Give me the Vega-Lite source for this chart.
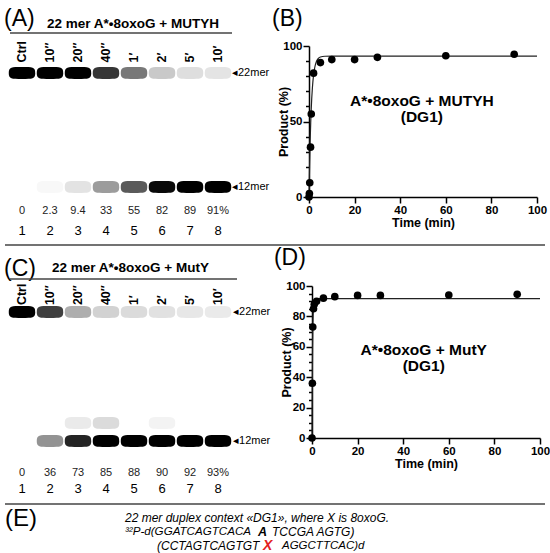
{
  "$schema": "https://vega.github.io/schema/vega-lite/v6.json",
  "background": "#ffffff",
  "padding": {"left": 0, "top": 7, "right": 0, "bottom": 0},
  "config": {
    "font": "Liberation Sans",
    "view": {"stroke": null},
    "axis": {
      "grid": false,
      "domainColor": "#000000",
      "domainWidth": 1.5,
      "tickColor": "#000000",
      "tickWidth": 1.5,
      "labelColor": "#000000",
      "labelFont": "Liberation Sans",
      "labelFontWeight": "bold",
      "labelFontSize": 11.5,
      "labelPadding": 1,
      "labelFlush": false,
      "labelOverlap": false,
      "titleColor": "#000000",
      "titleFont": "Liberation Sans",
      "titleFontWeight": "bold",
      "titleFontSize": 12.5
    }
  },
  "datasets": {
    "lanesA": [
      {"lane": 1, "label": "Ctrl", "pct": "0"},
      {"lane": 2, "label": "10″", "pct": "2.3"},
      {"lane": 3, "label": "20″", "pct": "9.4"},
      {"lane": 4, "label": "40″", "pct": "33"},
      {"lane": 5, "label": "1′", "pct": "55"},
      {"lane": 6, "label": "2′", "pct": "82"},
      {"lane": 7, "label": "5′", "pct": "89"},
      {"lane": 8, "label": "10′", "pct": "91%"}
    ],
    "lanesC": [
      {"lane": 1, "label": "Ctrl", "pct": "0"},
      {"lane": 2, "label": "10″", "pct": "36"},
      {"lane": 3, "label": "20″", "pct": "73"},
      {"lane": 4, "label": "40″", "pct": "85"},
      {"lane": 5, "label": "1′", "pct": "88"},
      {"lane": 6, "label": "2′", "pct": "90"},
      {"lane": 7, "label": "5′", "pct": "92"},
      {"lane": 8, "label": "10′", "pct": "93%"}
    ],
    "bandsA": [
      {"lane": 1, "size": 22, "intensity": 100}, {"lane": 1, "size": 12, "intensity": 0},
      {"lane": 2, "size": 22, "intensity": 97.7}, {"lane": 2, "size": 12, "intensity": 2.3},
      {"lane": 3, "size": 22, "intensity": 90.6}, {"lane": 3, "size": 12, "intensity": 9.4},
      {"lane": 4, "size": 22, "intensity": 67}, {"lane": 4, "size": 12, "intensity": 33},
      {"lane": 5, "size": 22, "intensity": 45}, {"lane": 5, "size": 12, "intensity": 55},
      {"lane": 6, "size": 22, "intensity": 18}, {"lane": 6, "size": 12, "intensity": 82},
      {"lane": 7, "size": 22, "intensity": 11}, {"lane": 7, "size": 12, "intensity": 89},
      {"lane": 8, "size": 22, "intensity": 9}, {"lane": 8, "size": 12, "intensity": 91}
    ],
    "bandsC": [
      {"lane": 1, "size": 22, "intensity": 100}, {"lane": 1, "size": 12, "intensity": 0},
      {"lane": 2, "size": 22, "intensity": 64}, {"lane": 2, "size": 12, "intensity": 36},
      {"lane": 3, "size": 22, "intensity": 27}, {"lane": 3, "size": 13.4, "intensity": 7}, {"lane": 3, "size": 12, "intensity": 73},
      {"lane": 4, "size": 22, "intensity": 15}, {"lane": 4, "size": 13.4, "intensity": 12}, {"lane": 4, "size": 12, "intensity": 85},
      {"lane": 5, "size": 22, "intensity": 12}, {"lane": 5, "size": 12, "intensity": 88},
      {"lane": 6, "size": 22, "intensity": 10}, {"lane": 6, "size": 13.4, "intensity": 4}, {"lane": 6, "size": 12, "intensity": 90},
      {"lane": 7, "size": 22, "intensity": 8}, {"lane": 7, "size": 12, "intensity": 92},
      {"lane": 8, "size": 22, "intensity": 7}, {"lane": 8, "size": 12, "intensity": 93}
    ],
    "markers": [
      {"size": 22, "label": "◂22mer"},
      {"size": 12, "label": "◂12mer"}
    ],
    "kinB": [
      {"time": 0, "product": 0}, {"time": 0.167, "product": 2.3}, {"time": 0.333, "product": 9.4},
      {"time": 0.667, "product": 33}, {"time": 1, "product": 55}, {"time": 2, "product": 82},
      {"time": 5, "product": 89}, {"time": 10, "product": 91}, {"time": 20, "product": 91},
      {"time": 30, "product": 92.5}, {"time": 60, "product": 93.5}, {"time": 90, "product": 94.5}
    ],
    "fitB": [
      {"time": 0, "product": 0}, {"time": 0.1, "product": 8.9}, {"time": 0.25, "product": 20.6},
      {"time": 0.5, "product": 36.7}, {"time": 0.75, "product": 49.2}, {"time": 1, "product": 59},
      {"time": 1.5, "product": 72.5}, {"time": 2, "product": 80.7}, {"time": 2.5, "product": 85.6},
      {"time": 3, "product": 88.7}, {"time": 4, "product": 91.6}, {"time": 5, "product": 92.7},
      {"time": 7, "product": 93.2}, {"time": 10, "product": 93.3}, {"time": 100, "product": 93.3}
    ],
    "kinD": [
      {"time": 0, "product": 0}, {"time": 0.167, "product": 36}, {"time": 0.333, "product": 73},
      {"time": 0.667, "product": 85}, {"time": 1, "product": 88}, {"time": 2, "product": 90},
      {"time": 5, "product": 92}, {"time": 10, "product": 93}, {"time": 20, "product": 93.8},
      {"time": 30, "product": 93.8}, {"time": 60, "product": 94}, {"time": 90, "product": 94.5}
    ],
    "fitD": [
      {"time": 0, "product": 0}, {"time": 0.05, "product": 17.4}, {"time": 0.1, "product": 31.5},
      {"time": 0.167, "product": 46.3}, {"time": 0.25, "product": 59.7}, {"time": 0.333, "product": 69.2},
      {"time": 0.5, "product": 80.6}, {"time": 0.75, "product": 87.9}, {"time": 1, "product": 90.4},
      {"time": 1.5, "product": 91.5}, {"time": 2, "product": 91.7}, {"time": 100, "product": 91.7}
    ]
  },
  "spacing": 0,
  "vconcat": [
    {
      "spacing": 2,
      "hconcat": [
        {
          "width": 270,
          "height": 198,
          "layer": [
            {
              "data": {"name": "bandsA"},
              "mark": {"type": "point", "shape": "M-1,0C-1,-0.45 -0.8,-0.45 0,-0.45C0.8,-0.45 1,-0.45 1,0C1,0.45 0.8,0.45 0,0.45C-0.8,0.45 -1,0.45 -1,0Z", "filled": true, "size": 700, "opacity": 1},
              "encoding": {
                "x": {"field": "lane", "type": "quantitative", "scale": {"domain": [0.2143, 9.857], "nice": false, "zero": false}, "axis": null},
                "y": {"field": "size", "type": "quantitative", "scale": {"domain": [7.0, 24.37], "nice": false, "zero": false}, "axis": null},
                "color": {"field": "intensity", "type": "quantitative", "scale": {"domain": [0, 85], "range": ["#ffffff", "#000000"], "clamp": true, "interpolate": "rgb"}, "legend": null}
              }
            },
            {
              "data": {"name": "lanesA"},
              "mark": {"type": "text", "angle": 270, "align": "left", "baseline": "middle", "fontWeight": "bold", "fontSize": 12.5},
              "encoding": {
                "x": {"field": "lane", "type": "quantitative", "scale": {"domain": [0.2143, 9.857], "nice": false, "zero": false}, "axis": null},
                "y": {"datum": 22.92, "type": "quantitative", "scale": {"domain": [7.0, 24.37], "nice": false, "zero": false}, "axis": null},
                "text": {"field": "label"}
              }
            },
            {
              "data": {"name": "lanesA"},
              "mark": {"type": "text", "baseline": "middle", "fontSize": 11, "color": "#222222"},
              "encoding": {
                "x": {"field": "lane", "type": "quantitative", "scale": {"domain": [0.2143, 9.857], "nice": false, "zero": false}, "axis": null},
                "y": {"datum": 9.89, "type": "quantitative", "scale": {"domain": [7.0, 24.37], "nice": false, "zero": false}, "axis": null},
                "text": {"field": "pct"}
              }
            },
            {
              "data": {"name": "lanesA"},
              "mark": {"type": "text", "baseline": "middle", "fontSize": 13},
              "encoding": {
                "x": {"field": "lane", "type": "quantitative", "scale": {"domain": [0.2143, 9.857], "nice": false, "zero": false}, "axis": null},
                "y": {"datum": 8.14, "type": "quantitative", "scale": {"domain": [7.0, 24.37], "nice": false, "zero": false}, "axis": null},
                "text": {"field": "lane"}
              }
            },
            {
              "data": {"name": "markers"},
              "mark": {"type": "text", "align": "left", "baseline": "middle", "fontSize": 11},
              "encoding": {
                "x": {"datum": 8.5, "type": "quantitative", "scale": {"domain": [0.2143, 9.857], "nice": false, "zero": false}, "axis": null},
                "y": {"field": "size", "type": "quantitative", "scale": {"domain": [7.0, 24.37], "nice": false, "zero": false}, "axis": null},
                "text": {"field": "label"}
              }
            },
            {
              "data": {"values": [{}]},
              "mark": {"type": "text", "align": "left", "baseline": "middle", "fontSize": 23},
              "encoding": {
                "x": {"datum": 0.36, "type": "quantitative", "scale": {"domain": [0.2143, 9.857], "nice": false, "zero": false}, "axis": null},
                "y": {"datum": 26.74, "type": "quantitative", "scale": {"domain": [7.0, 24.37], "nice": false, "zero": false}, "axis": null},
                "text": {"value": "(A)"}
              }
            },
            {
              "data": {"values": [{}]},
              "mark": {"type": "text", "align": "left", "baseline": "middle", "fontSize": 13.5, "fontWeight": "bold"},
              "encoding": {
                "x": {"datum": 1.893, "type": "quantitative", "scale": {"domain": [0.2143, 9.857], "nice": false, "zero": false}, "axis": null},
                "y": {"datum": 26.3, "type": "quantitative", "scale": {"domain": [7.0, 24.37], "nice": false, "zero": false}, "axis": null},
                "text": {"value": "22 mer A*•8oxoG + MUTYH"}
              }
            },
            {
              "data": {"values": [{}]},
              "mark": {"type": "rule", "color": "#444444", "strokeWidth": 1.5},
              "encoding": {
                "x": {"datum": 0.571, "type": "quantitative", "scale": {"domain": [0.2143, 9.857], "nice": false, "zero": false}, "axis": null},
                "x2": {"datum": 8.5},
                "y": {"datum": 25.51, "type": "quantitative", "scale": {"domain": [7.0, 24.37], "nice": false, "zero": false}, "axis": null}
              }
            }
          ]
        },
        {
          "width": 228,
          "height": 151,
          "resolve": {"axis": {"y": "independent"}},
          "layer": [
            {
              "data": {"name": "fitB"},
              "mark": {"type": "line", "color": "#222222", "strokeWidth": 1.2, "interpolate": "monotone"},
              "encoding": {
                "x": {"field": "time", "type": "quantitative", "scale": {"domain": [0, 100], "nice": false},
                  "axis": {"values": [0, 5, 10, 15, 20, 25, 30, 35, 40, 45, 50, 55, 60, 65, 70, 75, 80, 85, 90, 95, 100], "labelExpr": "datum.value % 20 === 0 ? datum.label : ''", "tickSize": {"condition": {"test": "datum.value % 20 === 0", "value": 6}, "value": 3.5}, "title": "Time (min)", "titlePadding": 1}},
                "y": {"field": "product", "type": "quantitative", "scale": {"domain": [0, 100], "nice": false},
                  "axis": {"orient": "left", "values": [0, 50, 100], "tickSize": 6, "title": "Product (%)", "titlePadding": -8}}
              }
            },
            {
              "data": {"name": "kinB"},
              "mark": {"type": "circle", "size": 58, "color": "#000000", "opacity": 1},
              "encoding": {
                "x": {"field": "time", "type": "quantitative", "scale": {"domain": [0, 100], "nice": false}},
                "y": {"field": "product", "type": "quantitative", "scale": {"domain": [0, 100], "nice": false},
                  "axis": {"orient": "left", "values": [10, 20, 30, 40, 60, 70, 80, 90], "labels": false, "domain": false, "tickSize": 3.5, "title": null}}
              }
            },
            {
              "data": {"values": [{}]},
              "mark": {"type": "text", "fontSize": 15.5, "fontWeight": "bold", "baseline": "middle"},
              "encoding": {
                "x": {"datum": 49.5, "type": "quantitative", "scale": {"domain": [0, 100], "nice": false}},
                "y": {"datum": 63.6, "type": "quantitative", "scale": {"domain": [0, 100], "nice": false}, "axis": null},
                "text": {"value": "A*•8oxoG + MUTYH"}
              }
            },
            {
              "data": {"values": [{}]},
              "mark": {"type": "text", "fontSize": 15.5, "fontWeight": "bold", "baseline": "middle"},
              "encoding": {
                "x": {"datum": 49.5, "type": "quantitative", "scale": {"domain": [0, 100], "nice": false}},
                "y": {"datum": 53, "type": "quantitative", "scale": {"domain": [0, 100], "nice": false}, "axis": null},
                "text": {"value": "(DG1)"}
              }
            },
            {
              "data": {"values": [{}]},
              "mark": {"type": "text", "fontSize": 23, "align": "left", "baseline": "top"},
              "encoding": {
                "x": {"datum": -16.2, "type": "quantitative", "scale": {"domain": [0, 100], "nice": false}},
                "y": {"datum": 125.2, "type": "quantitative", "scale": {"domain": [0, 100], "nice": false}, "axis": null},
                "text": {"value": "(B)"}
              }
            }
          ]
        }
      ]
    },
    {
      "width": 550,
      "height": 1,
      "data": {"values": [{}]},
      "mark": {"type": "rule", "color": "#444444", "strokeWidth": 1.5},
      "encoding": {
        "x": {"datum": 5, "type": "quantitative", "scale": {"domain": [0, 550]}, "axis": null},
        "x2": {"datum": 545},
        "y": {"datum": 0, "type": "quantitative", "scale": {"domain": [0, 1]}, "axis": null}
      }
    },
    {
      "spacing": 2,
      "hconcat": [
        {
          "width": 270,
          "height": 217,
          "layer": [
            {
              "data": {"name": "bandsC"},
              "mark": {"type": "point", "shape": "M-1,0C-1,-0.45 -0.8,-0.45 0,-0.45C0.8,-0.45 1,-0.45 1,0C1,0.45 0.8,0.45 0,0.45C-0.8,0.45 -1,0.45 -1,0Z", "filled": true, "size": 700, "opacity": 1},
              "encoding": {
                "x": {"field": "lane", "type": "quantitative", "scale": {"domain": [0.2143, 9.857], "nice": false, "zero": false}, "axis": null},
                "y": {"field": "size", "type": "quantitative", "scale": {"domain": [7.19, 24.02], "nice": false, "zero": false}, "axis": null},
                "color": {"field": "intensity", "type": "quantitative", "scale": {"domain": [0, 85], "range": ["#ffffff", "#000000"], "clamp": true, "interpolate": "rgb"}, "legend": null}
              }
            },
            {
              "data": {"name": "lanesC"},
              "mark": {"type": "text", "angle": 270, "align": "left", "baseline": "middle", "fontWeight": "bold", "fontSize": 12.5},
              "encoding": {
                "x": {"field": "lane", "type": "quantitative", "scale": {"domain": [0.2143, 9.857], "nice": false, "zero": false}, "axis": null},
                "y": {"datum": 22.54, "type": "quantitative", "scale": {"domain": [7.19, 24.02], "nice": false, "zero": false}, "axis": null},
                "text": {"field": "label"}
              }
            },
            {
              "data": {"name": "lanesC"},
              "mark": {"type": "text", "baseline": "middle", "fontSize": 11, "color": "#222222"},
              "encoding": {
                "x": {"field": "lane", "type": "quantitative", "scale": {"domain": [0.2143, 9.857], "nice": false, "zero": false}, "axis": null},
                "y": {"datum": 9.52, "type": "quantitative", "scale": {"domain": [7.19, 24.02], "nice": false, "zero": false}, "axis": null},
                "text": {"field": "pct"}
              }
            },
            {
              "data": {"name": "lanesC"},
              "mark": {"type": "text", "baseline": "middle", "fontSize": 13},
              "encoding": {
                "x": {"field": "lane", "type": "quantitative", "scale": {"domain": [0.2143, 9.857], "nice": false, "zero": false}, "axis": null},
                "y": {"datum": 8.26, "type": "quantitative", "scale": {"domain": [7.19, 24.02], "nice": false, "zero": false}, "axis": null},
                "text": {"field": "lane"}
              }
            },
            {
              "data": {"name": "markers"},
              "mark": {"type": "text", "align": "left", "baseline": "middle", "fontSize": 11},
              "encoding": {
                "x": {"datum": 8.536, "type": "quantitative", "scale": {"domain": [0.2143, 9.857], "nice": false, "zero": false}, "axis": null},
                "y": {"field": "size", "type": "quantitative", "scale": {"domain": [7.19, 24.02], "nice": false, "zero": false}, "axis": null},
                "text": {"field": "label"}
              }
            },
            {
              "data": {"values": [{}]},
              "mark": {"type": "text", "align": "left", "baseline": "middle", "fontSize": 23},
              "encoding": {
                "x": {"datum": 0.36, "type": "quantitative", "scale": {"domain": [0.2143, 9.857], "nice": false, "zero": false}, "axis": null},
                "y": {"datum": 25.31, "type": "quantitative", "scale": {"domain": [7.19, 24.02], "nice": false, "zero": false}, "axis": null},
                "text": {"value": "(C)"}
              }
            },
            {
              "data": {"values": [{}]},
              "mark": {"type": "text", "align": "left", "baseline": "middle", "fontSize": 13.5, "fontWeight": "bold"},
              "encoding": {
                "x": {"datum": 2.071, "type": "quantitative", "scale": {"domain": [0.2143, 9.857], "nice": false, "zero": false}, "axis": null},
                "y": {"datum": 25.41, "type": "quantitative", "scale": {"domain": [7.19, 24.02], "nice": false, "zero": false}, "axis": null},
                "text": {"value": "22 mer A*•8oxoG + MutY"}
              }
            },
            {
              "data": {"values": [{}]},
              "mark": {"type": "rule", "color": "#444444", "strokeWidth": 1.5},
              "encoding": {
                "x": {"datum": 0.571, "type": "quantitative", "scale": {"domain": [0.2143, 9.857], "nice": false, "zero": false}, "axis": null},
                "x2": {"datum": 8.679},
                "y": {"datum": 24.56, "type": "quantitative", "scale": {"domain": [7.19, 24.02], "nice": false, "zero": false}, "axis": null}
              }
            }
          ]
        },
        {
          "width": 228,
          "height": 152,
          "resolve": {"axis": {"y": "independent"}},
          "layer": [
            {
              "data": {"name": "fitD"},
              "mark": {"type": "line", "color": "#222222", "strokeWidth": 1.2, "interpolate": "monotone"},
              "encoding": {
                "x": {"field": "time", "type": "quantitative", "scale": {"domain": [0, 100], "nice": false},
                  "axis": {"values": [0, 5, 10, 15, 20, 25, 30, 35, 40, 45, 50, 55, 60, 65, 70, 75, 80, 85, 90, 95, 100], "labelExpr": "datum.value % 20 === 0 ? datum.label : ''", "tickSize": {"condition": {"test": "datum.value % 20 === 0", "value": 6}, "value": 3.5}, "title": "Time (min)", "titlePadding": 1}},
                "y": {"field": "product", "type": "quantitative", "scale": {"domain": [0, 100], "nice": false},
                  "axis": {"orient": "left", "values": [0, 20, 40, 60, 80, 100], "tickSize": 6, "title": "Product (%)", "titlePadding": -8}}
              }
            },
            {
              "data": {"name": "kinD"},
              "mark": {"type": "circle", "size": 58, "color": "#000000", "opacity": 1},
              "encoding": {
                "x": {"field": "time", "type": "quantitative", "scale": {"domain": [0, 100], "nice": false}},
                "y": {"field": "product", "type": "quantitative", "scale": {"domain": [0, 100], "nice": false},
                  "axis": {"orient": "left", "values": [5, 10, 15, 25, 30, 35, 45, 50, 55, 65, 70, 75, 85, 90, 95], "labels": false, "domain": false, "tickSize": 3.5, "title": null}}
              }
            },
            {
              "data": {"values": [{}]},
              "mark": {"type": "text", "fontSize": 15.5, "fontWeight": "bold", "baseline": "middle"},
              "encoding": {
                "x": {"datum": 49, "type": "quantitative", "scale": {"domain": [0, 100], "nice": false}},
                "y": {"datum": 57.9, "type": "quantitative", "scale": {"domain": [0, 100], "nice": false}, "axis": null},
                "text": {"value": "A*•8oxoG + MutY"}
              }
            },
            {
              "data": {"values": [{}]},
              "mark": {"type": "text", "fontSize": 15.5, "fontWeight": "bold", "baseline": "middle"},
              "encoding": {
                "x": {"datum": 49, "type": "quantitative", "scale": {"domain": [0, 100], "nice": false}},
                "y": {"datum": 47.5, "type": "quantitative", "scale": {"domain": [0, 100], "nice": false}, "axis": null},
                "text": {"value": "(DG1)"}
              }
            },
            {
              "data": {"values": [{}]},
              "mark": {"type": "text", "fontSize": 23, "align": "left", "baseline": "top"},
              "encoding": {
                "x": {"datum": -16.7, "type": "quantitative", "scale": {"domain": [0, 100], "nice": false}},
                "y": {"datum": 125.7, "type": "quantitative", "scale": {"domain": [0, 100], "nice": false}, "axis": null},
                "text": {"value": "(D)"}
              }
            }
          ]
        }
      ]
    },
    {
      "width": 550,
      "height": 1,
      "data": {"values": [{}]},
      "mark": {"type": "rule", "color": "#444444", "strokeWidth": 1.5},
      "encoding": {
        "x": {"datum": 5, "type": "quantitative", "scale": {"domain": [0, 550]}, "axis": null},
        "x2": {"datum": 545},
        "y": {"datum": 0, "type": "quantitative", "scale": {"domain": [0, 1]}, "axis": null}
      }
    },
    {
      "width": 550,
      "height": 52,
      "data": {"values": [{}]},
      "layer": [
        {
          "mark": {"type": "text", "align": "left", "baseline": "middle", "fontSize": 24},
          "encoding": {
            "x": {"datum": 5, "type": "quantitative", "scale": {"domain": [0, 550], "nice": false}, "axis": null},
            "y": {"datum": 14, "type": "quantitative", "scale": {"domain": [0, 52], "reverse": true, "nice": false}, "axis": null},
            "text": {"value": "(E)"}
          }
        },
        {
          "mark": {"type": "text", "align": "left", "baseline": "middle", "fontSize": 12, "fontStyle": "italic"},
          "encoding": {
            "x": {"datum": 125, "type": "quantitative", "scale": {"domain": [0, 550], "nice": false}, "axis": null},
            "y": {"datum": 12.5, "type": "quantitative", "scale": {"domain": [0, 52], "reverse": true, "nice": false}, "axis": null},
            "text": {"value": "22 mer duplex context «DG1», where X is 8oxoG."}
          }
        },
        {
          "mark": {"type": "text", "align": "left", "baseline": "middle", "fontSize": 11.6, "fontStyle": "italic"},
          "encoding": {
            "x": {"datum": 125, "type": "quantitative", "scale": {"domain": [0, 550], "nice": false}, "axis": null},
            "y": {"datum": 27, "type": "quantitative", "scale": {"domain": [0, 52], "reverse": true, "nice": false}, "axis": null},
            "text": {"value": "³²P-d(GGATCAGTCACA"}
          }
        },
        {
          "mark": {"type": "text", "align": "left", "baseline": "middle", "fontSize": 12.5, "fontStyle": "italic", "fontWeight": "bold"},
          "encoding": {
            "x": {"datum": 258, "type": "quantitative", "scale": {"domain": [0, 550], "nice": false}, "axis": null},
            "y": {"datum": 27, "type": "quantitative", "scale": {"domain": [0, 52], "reverse": true, "nice": false}, "axis": null},
            "text": {"value": "A"}
          }
        },
        {
          "mark": {"type": "text", "align": "left", "baseline": "middle", "fontSize": 12, "fontStyle": "italic"},
          "encoding": {
            "x": {"datum": 272, "type": "quantitative", "scale": {"domain": [0, 550], "nice": false}, "axis": null},
            "y": {"datum": 27, "type": "quantitative", "scale": {"domain": [0, 52], "reverse": true, "nice": false}, "axis": null},
            "text": {"value": "TCCGA AGTG)"}
          }
        },
        {
          "mark": {"type": "text", "align": "left", "baseline": "middle", "fontSize": 12, "fontStyle": "italic"},
          "encoding": {
            "x": {"datum": 157, "type": "quantitative", "scale": {"domain": [0, 550], "nice": false}, "axis": null},
            "y": {"datum": 40.5, "type": "quantitative", "scale": {"domain": [0, 52], "reverse": true, "nice": false}, "axis": null},
            "text": {"value": "(CCTAGTCAGTGT"}
          }
        },
        {
          "mark": {"type": "text", "align": "left", "baseline": "middle", "fontSize": 14, "fontStyle": "italic", "fontWeight": "bold", "color": "#e3211c"},
          "encoding": {
            "x": {"datum": 263, "type": "quantitative", "scale": {"domain": [0, 550], "nice": false}, "axis": null},
            "y": {"datum": 40.5, "type": "quantitative", "scale": {"domain": [0, 52], "reverse": true, "nice": false}, "axis": null},
            "text": {"value": "X"}
          }
        },
        {
          "mark": {"type": "text", "align": "left", "baseline": "middle", "fontSize": 11.5, "fontStyle": "italic"},
          "encoding": {
            "x": {"datum": 282, "type": "quantitative", "scale": {"domain": [0, 550], "nice": false}, "axis": null},
            "y": {"datum": 40.5, "type": "quantitative", "scale": {"domain": [0, 52], "reverse": true, "nice": false}, "axis": null},
            "text": {"value": "AGGCTTCAC)d"}
          }
        }
      ]
    }
  ]
}
